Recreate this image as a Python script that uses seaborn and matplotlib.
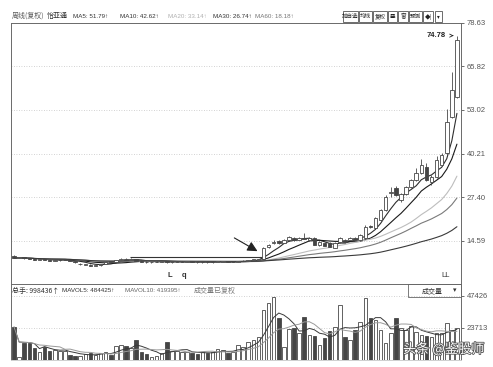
import numpy as np
import pandas as pd
import matplotlib
matplotlib.use('Agg')
import matplotlib.pyplot as plt
import matplotlib.patheffects as pe
from matplotlib.patches import Rectangle
import seaborn as sns

sns.set_theme(style='white')
plt.rcParams['font.family'] = ['Noto Sans CJK SC', 'DejaVu Sans']
plt.rcParams['axes.unicode_minus'] = False
CJK = ['Noto Sans CJK SC', 'DejaVu Sans']
LAT = ['Liberation Sans', 'DejaVu Sans']

# ---------------- data ----------------
opens = [10.2, 9.6, 9.8, 9.5, 9.4, 9.1, 9.3, 9.0, 8.8, 8.9,
         9.0, 9.0, 8.6, 7.8, 7.6, 7.7, 7.3, 7.5, 7.9, 8.6,
         8.5, 9.0, 9.4, 9.1, 9.3, 8.8, 8.5, 8.3, 8.4, 8.5,
         8.7, 8.3, 8.4, 8.4, 8.5, 8.6, 8.4, 8.3, 8.4, 8.3,
         8.4, 8.5, 8.6, 8.4, 8.5, 8.7, 8.8, 9.0, 9.1, 9.3,
         12.8, 14.0, 14.6, 14.0, 15.0, 15.5, 15.0, 15.5, 14.9, 15.5,
         13.4, 14.0, 14.0, 12.6, 14.3, 14.9, 15.0, 15.5, 14.9, 15.5,
         19.0, 18.4, 20.7, 23.7, 28.8, 30.1, 26.6, 28.4, 30.4, 32.5,
         34.5, 36.3, 31.9, 33.4, 36.9, 40.4, 50.9, 56.8]
closes = [9.6, 9.8, 9.5, 9.3, 9.1, 9.3, 9.0, 8.8, 9.0, 9.1,
          9.1, 8.7, 8.3, 7.9, 7.8, 7.3, 7.5, 7.8, 8.3, 8.4,
          9.0, 9.4, 9.1, 9.4, 8.8, 8.5, 8.3, 8.4, 8.5, 8.6,
          8.3, 8.4, 8.5, 8.5, 8.6, 8.4, 8.3, 8.4, 8.3, 8.4,
          8.6, 8.6, 8.4, 8.5, 8.7, 8.8, 9.0, 9.2, 9.3, 12.5,
          13.4, 14.3, 13.9, 15.0, 15.8, 14.9, 15.5, 15.3, 15.5, 13.5,
          14.3, 13.2, 12.9, 14.0, 15.5, 14.3, 15.5, 15.0, 16.4, 18.7,
          18.6, 21.3, 23.7, 27.5, 29.0, 28.1, 28.4, 30.4, 32.5, 34.5,
          36.9, 32.5, 33.4, 38.3, 39.8, 49.5, 58.85, 73.5]
highs = [10.4, 9.9, 9.9, 9.6, 9.5, 9.4, 9.4, 9.1, 9.1, 9.2,
         9.2, 9.1, 8.7, 8.1, 7.9, 7.8, 7.6, 7.9, 8.4, 8.7,
         9.1, 9.6, 9.5, 9.6, 9.4, 8.9, 8.6, 8.5, 8.6, 8.7,
         8.8, 8.5, 8.6, 8.6, 8.7, 8.7, 8.5, 8.5, 8.5, 8.5,
         8.7, 8.7, 8.7, 8.6, 8.8, 8.9, 9.1, 9.3, 9.4, 12.7,
         13.6, 15.0, 14.8, 15.3, 16.2, 15.7, 15.8, 16.9, 15.8, 15.8,
         14.5, 14.2, 14.2, 14.2, 15.8, 15.1, 15.8, 15.8, 16.7, 19.2,
         19.4, 21.6, 24.1, 28.0, 30.5, 30.6, 28.8, 30.8, 32.9, 36.0,
         38.5, 37.5, 33.8, 39.5, 40.4, 53.3, 64.1, 74.78]
lows = [9.5, 9.5, 9.4, 9.2, 9.0, 9.0, 8.9, 8.7, 8.7, 8.8,
        8.9, 8.6, 8.2, 7.7, 7.5, 7.2, 7.2, 7.4, 7.8, 8.3,
        8.4, 8.9, 9.0, 9.0, 8.7, 8.4, 8.2, 8.2, 8.3, 8.4,
        8.2, 8.2, 8.3, 8.3, 8.4, 8.3, 8.2, 8.2, 8.2, 8.2,
        8.3, 8.4, 8.3, 8.3, 8.4, 8.6, 8.7, 8.9, 9.0, 9.2,
        12.6, 13.8, 13.7, 13.9, 14.8, 14.7, 14.9, 15.1, 14.7, 13.3,
        13.2, 13.0, 12.7, 12.4, 14.1, 14.1, 14.8, 14.8, 14.7, 15.3,
        18.3, 18.2, 20.5, 23.4, 27.6, 27.8, 26.0, 28.1, 30.1, 32.2,
        34.2, 32.2, 31.0, 33.1, 36.5, 40.0, 50.5, 56.5]
volumes = [24450, 2200, 12600, 12600, 8900, 5900, 9600, 6700, 7400, 6700,
           6700, 3700, 3000, 3000, 4400, 5200, 3700, 5200, 5900, 3700,
           10400, 11100, 10400, 8900, 14800, 5900, 4400, 2200, 3000, 5200,
           13300, 6700, 6700, 5900, 5900, 5200, 4400, 5900, 5200, 5900,
           8100, 7400, 5200, 5900, 11100, 9600, 13300, 14800, 17000, 37000,
           42200, 46700, 31100, 9600, 23000, 23700, 20000, 31900, 18500, 17800,
           11100, 16300, 21500, 24500, 40800, 17000, 14800, 22200, 28200, 45900,
           31100, 29600, 22200, 12600, 20000, 31100, 23700, 22200, 25200, 20700,
           18500, 17800, 17000, 20000, 20000, 27400, 22200, 23700]

ma_windows = [5, 10, 20, 30, 60]
ma_colors = ['#2e2e2e', '#1a1a1a', '#bdbdbd', '#7a7a7a', '#3a3a3a']
price_ticks = [78.63, 65.82, 53.02, 40.21, 27.40, 14.59]
vol_ticks = [47426, 23713]
title_items = [('周线(复权)', 12, '#555555', CJK), ('怡亚通', 47, '#333333', CJK),
               ('MA5: 51.79↑', 73, '#333333', LAT), ('MA10: 42.62↑', 120, '#333333', LAT),
               ('MA20: 33.14↑', 168, '#b0b0b0', LAT), ('MA30: 26.74↑', 213, '#333333', LAT),
               ('MA60: 18.18↑', 255, '#777777', LAT)]
vol_title_items = [('总手: 998436↑', 12, '#333333', CJK), ('MAVOL5: 484425↑', 62, '#333333', LAT),
                   ('MAVOL10: 419395↑', 125, '#666666', LAT), ('成交量已复权', 194, '#777777', CJK)]
buttons = [('加自选', 343, 358), ('均线', 359, 372), ('复权', 373, 387), ('叠', 388, 397),
           ('窗', 398, 408), ('预测', 409, 422), ('◆|', 423, 433), ('▾', 435, 442)]
peak_label = '74.78'

# ---------------- figure ----------------
W, H = 493, 367
fig = plt.figure(figsize=(W / 100, H / 100), dpi=100)
fig.patch.set_facecolor('white')

def fx(x):
    return x / W

def fy(y):
    return 1 - y / H

L, R = 11, 461
main_top, main_bot = 22.5, 284
vol_top, vol_bot = 284, 360
ax = fig.add_axes([fx(L), fy(main_bot), (R - L) / W, (main_bot - main_top) / H])
axv = fig.add_axes([fx(L), fy(vol_bot), (R - L) / W, (vol_bot - vol_top) / H])

n = len(closes)
idx = np.arange(n)
df = pd.DataFrame({'idx': idx, 'open': opens, 'close': closes, 'high': highs,
                   'low': lows, 'vol': volumes})
df['dir'] = np.where(df['close'] >= df['open'], 'up', 'down')

edge = '#474747'
dark = '#454545'
xlim = (-0.6, 87.8)

# gridlines
for t in price_ticks:
    ax.axhline(t, color='#c4c4c4', lw=0.6, ls=(0, (1, 2)), zorder=0)
for t in vol_ticks:
    axv.axhline(t, color='#c4c4c4', lw=0.6, ls=(0, (1, 2)), zorder=0)

# moving averages
for w, c in zip(ma_windows, ma_colors):
    ma = df['close'].rolling(w, min_periods=1).mean()
    sns.lineplot(x=df['idx'], y=ma, ax=ax, color=c, lw=0.8, zorder=2)

# candles
up = df['dir'] == 'up'
ax.vlines(df['idx'], df['low'], df['high'], color=edge, lw=0.6, zorder=3)
body = (df['close'] - df['open']).abs().clip(lower=0.1)
bottom = df[['open', 'close']].min(axis=1)
ax.bar(df['idx'][up], body[up], bottom=bottom[up], width=0.7,
       facecolor='white', edgecolor=edge, lw=0.6, zorder=4)
ax.bar(df['idx'][~up], body[~up], bottom=bottom[~up], width=0.7,
       facecolor=dark, edgecolor=edge, lw=0.6, zorder=4)

# drawn horizontal line and arrow
ax.hlines(9.9, 22.8, 48.7, color='#333333', lw=0.8, zorder=2)
ax.annotate('', xy=(48.3, 11.2), xytext=(42.8, 15.9),
            arrowprops=dict(arrowstyle='-|>,head_length=0.5,head_width=0.25',
                            color='#222222', lw=0.8))
ax.annotate(peak_label, xy=(86.9, 74.78), xytext=(84.9, 74.78),
            fontsize=5.5, color='#222222', ha='right', va='center', weight='bold',
            family=LAT,
            arrowprops=dict(arrowstyle='->', color='#222222', lw=0.6))

ax.set_xlim(*xlim)
ax.set_ylim(14.59 - (main_bot - 241) * 0.2931, 78.63)
ax.set_xticks([])
ax.yaxis.tick_right()
ax.set_yticks(price_ticks)
ax.set_yticklabels([f'{t:.2f}' for t in price_ticks], family=LAT)
ax.tick_params(axis='y', right=True, length=2.5, width=0.6, color='#555555',
               labelsize=5.5, labelcolor='#555555', pad=1.5)
ax.set_xlabel('')
ax.set_ylabel('')

# volume
sns.barplot(data=df, x='idx', y='vol', hue='dir', palette={'up': 'white', 'down': dark},
            dodge=False, width=0.7, edgecolor=edge, linewidth=0.6, errorbar=None,
            legend=False, ax=axv, zorder=3)
for w, c in zip([5, 10], ['#3a3a3a', '#9a9a9a']):
    mv = df['vol'].rolling(w, min_periods=1).mean()
    sns.lineplot(x=df['idx'], y=mv, ax=axv, color=c, lw=0.7, zorder=4)
axv.set_xlim(*xlim)
axv.set_ylim(0, (vol_bot - vol_top) * 23713 / 32)
axv.set_xticks([])
axv.yaxis.tick_right()
axv.set_yticks(vol_ticks)
axv.set_yticklabels([str(t) for t in vol_ticks], family=LAT)
axv.tick_params(axis='y', right=True, length=2.5, width=0.6, color='#555555',
                labelsize=5.5, labelcolor='#555555', pad=1.5)
axv.set_xlabel('')
axv.set_ylabel('')

for a in (ax, axv):
    for s in a.spines.values():
        s.set_color('#6a6a6a')
        s.set_linewidth(0.7)
axv.spines['bottom'].set_color('#cfcfcf')

# markers in main panel
ax.text(30.5, 3.4, 'L', fontsize=5.5, color='#333333', ha='center', va='bottom',
        weight='bold', family=LAT)
ax.text(33.4, 3.4, 'q', fontsize=5.5, color='#333333', ha='center', va='bottom',
        weight='bold', family=LAT)
ax.text(84.8, 3.4, 'LL', fontsize=5.5, color='#333333', ha='center', va='bottom', family=LAT)

# header texts
for s, x, c, fam in title_items:
    size = 5.0 if fam is CJK else 4.5
    fig.text(fx(x), fy(16), s, fontsize=size, color=c, ha='left', va='center', family=fam)
for s, x0, x1 in buttons:
    fig.patches.append(Rectangle((fx(x0), fy(22)), (x1 - x0) / W, 11 / H,
                       transform=fig.transFigure, fc='white', ec='#555555', lw=0.6))
    fig.text(fx((x0 + x1) / 2), fy(16.5), s, fontsize=4.0, color='#222222',
             ha='center', va='center', family=CJK)
for s, x, c, fam in vol_title_items:
    size = 5.0 if fam is CJK else 4.5
    fig.text(fx(x), fy(291), s, fontsize=size, color=c, ha='left', va='center', family=fam)

# volume selector box
fig.text(fx(432), fy(291), '成交量', fontsize=5.0, color='#333333', ha='center', va='center',
         family=CJK)
fig.text(fx(455), fy(290.5), '▾', fontsize=5.0, color='#333333', ha='center', va='center',
         family=CJK)
fig.patches.append(Rectangle((fx(408), fy(297)), (R - 408) / W, 13 / H,
                   transform=fig.transFigure, fill=False, ec='#666666', lw=0.6))

# watermark
fig.text(fx(403), fy(349), '头条 @鉴股师', fontsize=9.5, color='white', ha='left', va='center',
         family=CJK, path_effects=[pe.withStroke(linewidth=1.2, foreground='#555555')])

fig.savefig('out.png', dpi=100, facecolor='white')
